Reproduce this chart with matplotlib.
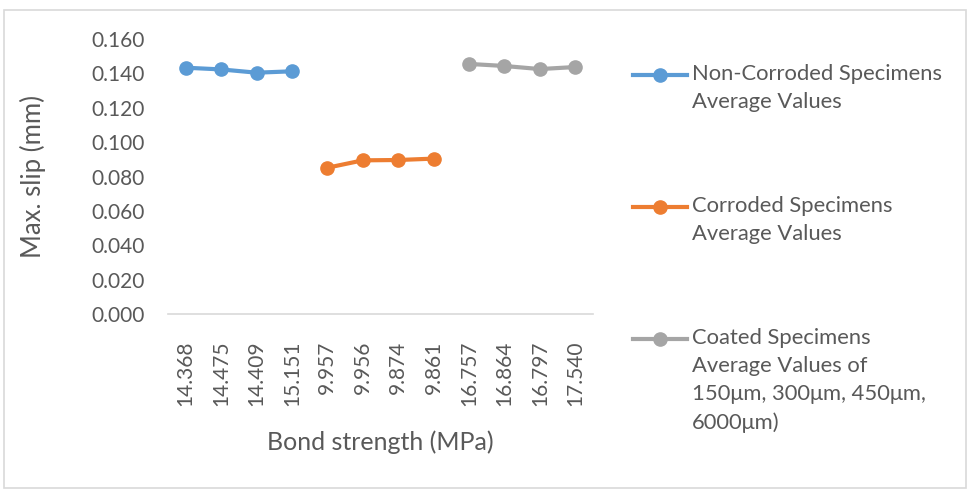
import numpy as np
import matplotlib.pyplot as plt
from matplotlib.lines import Line2D
from matplotlib.patches import Rectangle

plt.rcParams['font.family'] = ['Lato', 'DejaVu Sans']

# Bond strength categories (MPa) and average max. slip (mm)
categories = ['14.368', '14.475', '14.409', '15.151',
              '9.957', '9.956', '9.874', '9.861',
              '16.757', '16.864', '16.797', '17.540']
non_corroded = [0.1433, 0.1423, 0.1404, 0.1412]
corroded = [0.0851, 0.0894, 0.0896, 0.0904]
coated = [0.1455, 0.1443, 0.1425, 0.1437]

labels = ['Non-Corroded Specimens\nAverage Values',
          'Corroded Specimens\nAverage Values',
          'Coated Specimens\nAverage Values of\n150\u03bcm, 300\u03bcm, 450\u03bcm,\n6000\u03bcm)']
colors = ['#5B9BD5', '#ED7D31', '#A5A5A5']
text_color = '#595959'

fig = plt.figure(figsize=(9.69, 4.90), dpi=100)
ax = fig.add_axes([168 / 969, 1 - 314 / 490, 425 / 969, 275 / 490])

x = np.arange(len(categories))
series = [(x[0:4], non_corroded), (x[4:8], corroded), (x[8:12], coated)]
for (xs, ys), c in zip(series, colors):
    ax.plot(xs, ys, color=c, lw=3, marker='o', ms=9.5, solid_capstyle='round')

ax.set_xlim(-0.5, len(categories) - 0.5)
ax.set_ylim(0, 0.16)
ax.set_yticks(np.arange(0, 0.161, 0.02))
ax.set_yticklabels([f'{v:.3f}' for v in np.arange(0, 0.161, 0.02)])
ax.set_xticks(x)
ax.set_xticklabels(categories, rotation=90)
ax.tick_params(axis='both', length=0, labelsize=15, colors=text_color)
ax.tick_params(axis='x', pad=19)
ax.tick_params(axis='y', pad=17)

for s in ['top', 'right', 'left']:
    ax.spines[s].set_visible(False)
ax.spines['bottom'].set_color('#D9D9D9')
ax.spines['bottom'].set_linewidth(1.2)

fig.text(33 / 969, 1 - 177 / 490, 'Max. slip (mm)', rotation=90, ha='center', va='center',
         fontsize=18.5, color=text_color)
fig.text(380 / 969, 1 - 442 / 490, 'Bond strength (MPa)', ha='center', va='center',
         fontsize=18, color=text_color)

# legend drawn by hand so the marker sits on the first text line
for i, (lab, c) in enumerate(zip(labels, colors)):
    yl = 1 - (75 + 132 * i) / 490
    fig.add_artist(Line2D([633 / 969, 687 / 969], [yl, yl], color=c, lw=3,
                          transform=fig.transFigure))
    fig.add_artist(Line2D([660 / 969], [yl], color=c, marker='o', ms=9.5,
                          transform=fig.transFigure))
    fig.text(692 / 969, yl + 11 / 490, lab, ha='left', va='top', fontsize=15.8,
             color=text_color, linespacing=1.5)

# outer chart border
fig.add_artist(Rectangle((4 / 969, 1 - 488 / 490), 962 / 969, 478 / 490, fill=False,
                         edgecolor='#D9D9D9', lw=1.2, transform=fig.transFigure))

fig.savefig('out.png', dpi=100)
